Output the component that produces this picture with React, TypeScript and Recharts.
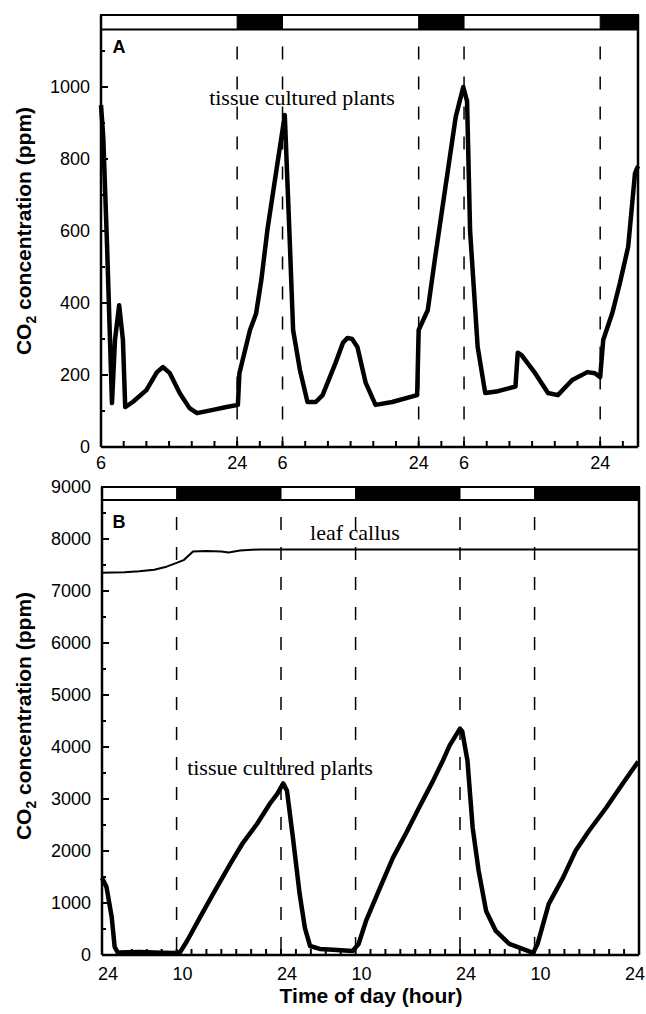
import { LineChart, Line, XAxis, YAxis, ReferenceArea, ReferenceLine } from 'recharts';

// Panel A: hours since 06:00 on the first day
const hoursA = [0, 0.3, 0.8, 1.45, 1.85, 2.4, 2.9, 3.2, 4.2, 6.0, 7.4, 8.2, 9.1, 10.4, 11.7, 12.7, 14.8, 16.6, 18.1, 18.3, 19.7, 20.5, 21.2, 22.0, 23.2, 24.0, 24.3, 24.9, 25.4, 26.3, 27.3, 28.4, 29.3, 31.0, 32.0, 32.6, 33.2, 33.9, 35.0, 36.3, 38.5, 41.8, 42.0, 43.2, 44.2, 46.9, 47.9, 48.4, 48.8, 49.8, 50.8, 52.5, 54.8, 55.1, 55.6, 57.4, 59.1, 60.4, 62.3, 64.3, 65.3, 66.0, 66.4, 67.6, 68.6, 69.7, 70.6, 71];
const co2A = [950, 860, 560, 122, 297, 394, 297, 111, 125, 158, 208, 222, 205, 150, 108, 94, 103, 111, 117, 205, 325, 370, 464, 603, 770, 880, 922, 603, 325, 214, 125, 125, 144, 233, 290, 303, 300, 278, 178, 117, 125, 144, 325, 380, 530, 917, 1000, 960, 600, 278, 150, 155, 168, 262, 255, 205, 150, 144, 186, 208, 205, 194, 297, 372, 455, 556, 760, 780];

const xTicksA = [0, 3, 6, 9, 12, 15, 18, 21, 24, 27, 30, 33, 36, 39, 42, 45, 48, 51, 54, 57, 60, 63, 66, 69];
const xLabelHoursA = [0, 18, 24, 42, 48, 66];
const xLabelTextA = ['6', '24', '6', '24', '6', '24'];
const yTicksA = [0, 100, 200, 300, 400, 500, 600, 700, 800, 900, 1000, 1100];
const yLabelsA = [0, 200, 400, 600, 800, 1000];
const darkStartA = [18, 42, 66];
const darkEndA = [24, 48, 71];
const dashesA = [18, 24, 42, 48, 66];

// Panel B: hours since 24:00 on the first day
const hoursB = [0, 0.6, 1.3, 1.7, 2.1, 5, 8, 10, 10.5, 11.4, 13.1, 14.9, 17.2, 18.9, 20.8, 22.5, 23.5, 24.3, 24.8, 25.6, 26.5, 27.2, 27.9, 29.2, 31, 33.6, 34.4, 35.4, 37.1, 39, 40.8, 42.5, 44.4, 45.7, 46.6, 48, 48.3, 49, 49.7, 50.5, 51.5, 52.8, 54.6, 56.4, 57.8, 58.4, 59.9, 61.8, 63.5, 65.3, 67.6, 69.8, 71.9];
const co2B = [1480, 1310, 730, 154, 50, 60, 45, 40, 60, 270, 713, 1175, 1753, 2158, 2524, 2909, 3100, 3300, 3160, 2254, 1175, 520, 173, 116, 100, 77, 212, 655, 1233, 1869, 2350, 2832, 3353, 3738, 4027, 4354, 4300, 3738, 2447, 1618, 848, 462, 212, 116, 39, 212, 983, 1484, 2004, 2389, 2832, 3295, 3720];
const callusHours = [0, 3, 5, 7, 8.5, 10, 11, 12.2, 14, 16, 17, 18.5, 21, 30, 72];
const callusCo2 = [7350, 7360, 7380, 7410, 7460, 7540, 7600, 7760, 7770, 7760, 7740, 7780, 7800, 7800, 7800];

const xTicksB = [0, 2, 4, 6, 8, 10, 12, 14, 16, 18, 20, 22, 24, 26, 28, 30, 32, 34, 36, 38, 40, 42, 44, 46, 48, 50, 52, 54, 56, 58, 60, 62, 64, 66, 68, 70, 72];
const xLabelHoursB = [0, 10, 24, 34, 48, 58, 72];
const xLabelTextB = ['24', '10', '24', '10', '24', '10', '24'];
const yTicksB = [0, 500, 1000, 1500, 2000, 2500, 3000, 3500, 4000, 4500, 5000, 5500, 6000, 6500, 7000, 7500, 8000, 8500, 9000];
const yLabelsB = [0, 1000, 2000, 3000, 4000, 5000, 6000, 7000, 8000, 9000];
const darkStartB = [10, 34, 58];
const darkEndB = [24, 48, 72];
const dashesB = [10, 24, 34, 48, 58];

const sans = '"Liberation Sans", Arial, Helvetica, sans-serif';
const serif = '"Liberation Serif", "Times New Roman", serif';

const toPoints = (hs: number[], vs: number[]) => hs.map((h, i) => ({ h, v: vs[i] }));

function xTick(labelHours: number[], labelText: string[], dy: number, dx: number) {
  return (props: any) => {
    const { x, y, payload } = props;
    const i = labelHours.indexOf(payload.value);
    // keep the last label inside the page
    const atEdge = x + dx + 11 > 645;
    return (
      <g>
        <line x1={x} x2={x} y1={y} y2={y - 6} stroke="#000" strokeWidth={2} />
        {i >= 0 && (
          <text
            x={atEdge ? 645 : x + dx}
            y={y + dy}
            textAnchor={atEdge ? 'end' : 'middle'}
            fontFamily={sans}
            fontSize={18}
            fill="#000"
          >
            {labelText[i]}
          </text>
        )}
      </g>
    );
  };
}

function yTick(labels: number[]) {
  return (props: any) => {
    const { x, y, payload } = props;
    const major = labels.includes(payload.value);
    return (
      <g>
        <line x1={x} x2={x + (major ? 7 : 4)} y1={y} y2={y} stroke="#000" strokeWidth={2} />
        {major && (
          <text x={x - 11} y={y + 6} textAnchor="end" fontFamily={sans} fontSize={18} fill="#000">
            {payload.value}
          </text>
        )}
      </g>
    );
  };
}

const abs = (left: number, top: number, extra: any = {}) => ({
  position: 'absolute' as const,
  left,
  top,
  transform: 'translate(-50%, -50%)',
  whiteSpace: 'nowrap' as const,
  lineHeight: 1,
  color: '#000',
  ...extra,
});

function YTitle({ top }: { top: number }) {
  return (
    <div style={abs(23, top, { transform: 'translate(-50%, -50%) rotate(-90deg)', fontFamily: sans, fontWeight: 700, fontSize: 21 })}>
      CO<span style={{ fontSize: 14, position: 'relative', top: 5 }}>2</span> concentration (ppm)
    </div>
  );
}

const axisStyle = { stroke: '#000', strokeWidth: 2.5 };

export default function App() {
  const dataA = toPoints(hoursA, co2A);
  const dataB = toPoints(hoursB, co2B);
  const callus = toPoints(callusHours, callusCo2);

  return (
    <div style={{ position: 'absolute', left: 0, top: 0, width: 646, height: 1014, background: '#fff' }}>
      <div style={{ position: 'absolute', left: 0, top: 0 }}>
        <LineChart width={646} height={480} margin={{ top: 15, right: 8, bottom: 0, left: 0 }}>
          <XAxis
            dataKey="h"
            type="number"
            domain={[0, 71]}
            ticks={xTicksA}
            interval={0}
            tickSize={0}
            tickMargin={0}
            tickLine={false}
            axisLine={axisStyle}
            height={33}
            tick={xTick(xLabelHoursA, xLabelTextA, 22, 0)}
          />
          <YAxis
            type="number"
            domain={[0, 1200]}
            ticks={yTicksA}
            interval={0}
            tickSize={0}
            tickMargin={0}
            tickLine={false}
            axisLine={axisStyle}
            width={101}
            tick={yTick(yLabelsA)}
          />
          <ReferenceArea x1={0} x2={71} y1={1160} y2={1200} fill="#fff" fillOpacity={1} stroke="#000" strokeWidth={2} />
          {darkStartA.map((s, i) => (
            <ReferenceArea key={'da' + i} x1={s} x2={darkEndA[i]} y1={1160} y2={1200} fill="#000" fillOpacity={1} stroke="#000" />
          ))}
          {dashesA.map((d) => (
            <ReferenceLine
              key={'la' + d}
              segment={[{ x: d, y: 1160 }, { x: d, y: 0 }]}
              stroke="#000"
              strokeWidth={1.5}
              strokeDasharray="13 17"
              strokeDashoffset={13}
            />
          ))}
          <ReferenceLine x={71} stroke="#000" strokeWidth={2.5} />
          <Line
            data={dataA}
            dataKey="v"
            type="linear"
            stroke="#000"
            strokeWidth={4.5}
            strokeLinejoin="round"
            dot={false}
            activeDot={false}
            isAnimationActive={false}
          />
        </LineChart>
      </div>

      <div style={{ position: 'absolute', left: 0, top: 470 }}>
        <LineChart width={646} height={544} margin={{ top: 17, right: 7, bottom: 0, left: 0 }}>
          <XAxis
            dataKey="h"
            type="number"
            domain={[0, 72]}
            ticks={xTicksB}
            interval={0}
            tickSize={0}
            tickMargin={0}
            tickLine={false}
            axisLine={axisStyle}
            height={59}
            tick={xTick(xLabelHoursB, xLabelTextB, 25, 6)}
          />
          <YAxis
            type="number"
            domain={[0, 9000]}
            ticks={yTicksB}
            interval={0}
            tickSize={0}
            tickMargin={0}
            tickLine={false}
            axisLine={axisStyle}
            width={102}
            tick={yTick(yLabelsB)}
          />
          <ReferenceArea x1={0} x2={72} y1={8750} y2={9000} fill="#fff" fillOpacity={1} stroke="#000" strokeWidth={2} />
          {darkStartB.map((s, i) => (
            <ReferenceArea key={'db' + i} x1={s} x2={darkEndB[i]} y1={8750} y2={9000} fill="#000" fillOpacity={1} stroke="#000" />
          ))}
          {dashesB.map((d) => (
            <ReferenceLine
              key={'lb' + d}
              segment={[{ x: d, y: 8750 }, { x: d, y: 0 }]}
              stroke="#000"
              strokeWidth={1.5}
              strokeDasharray="13 17"
              strokeDashoffset={13}
            />
          ))}
          <ReferenceLine x={72} stroke="#000" strokeWidth={2.5} />
          <Line
            data={callus}
            dataKey="v"
            type="linear"
            stroke="#000"
            strokeWidth={2}
            dot={false}
            activeDot={false}
            isAnimationActive={false}
          />
          <Line
            data={dataB}
            dataKey="v"
            type="linear"
            stroke="#000"
            strokeWidth={4.5}
            strokeLinejoin="round"
            dot={false}
            activeDot={false}
            isAnimationActive={false}
          />
        </LineChart>
      </div>

      <div style={abs(119, 47, { fontFamily: sans, fontWeight: 700, fontSize: 18 })}>A</div>
      <div style={abs(302, 98, { fontFamily: serif, fontSize: 22 })}>tissue cultured plants</div>
      <div style={abs(119, 522, { fontFamily: sans, fontWeight: 700, fontSize: 18 })}>B</div>
      <div style={abs(355, 533, { fontFamily: serif, fontSize: 22 })}>leaf callus</div>
      <div style={abs(280, 768, { fontFamily: serif, fontSize: 22 })}>tissue cultured plants</div>
      <YTitle top={231} />
      <YTitle top={716} />
      <div style={abs(371, 995, { fontFamily: sans, fontWeight: 700, fontSize: 21 })}>Time of day (hour)</div>
    </div>
  );
}
